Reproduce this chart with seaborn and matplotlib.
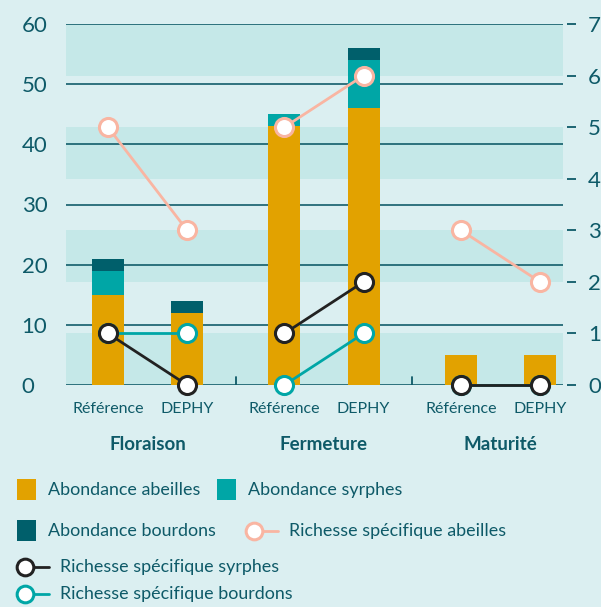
import numpy as np
import pandas as pd
import matplotlib
matplotlib.use("Agg")
import matplotlib.pyplot as plt
import seaborn as sns
from matplotlib.patches import Rectangle
from matplotlib.lines import Line2D
import matplotlib.transforms as mtransforms

# ---- data ----
groups = ["Floraison", "Fermeture", "Maturité"]
conditions = ["Référence", "DEPHY"]
abond_abeilles = [15, 12, 43, 46, 5, 5]
abond_syrphes = [4, 0, 2, 8, 0, 0]
abond_bourdons = [2, 2, 0, 2, 0, 0]
rich_abeilles = [5, 3, 5, 6, 3, 2]
rich_syrphes = [1, 0, 1, 2, 0, 0]
rich_bourdons = [1, 1, 0, 1, 0, 0]
left_ticks = [0, 10, 20, 30, 40, 50, 60]
right_ticks = [0, 1, 2, 3, 4, 5, 6, 7]

# ---- style ----
BG = "#dbeff1"
BAND = "#c5e8e8"
TXT = "#0e5a68"
C_ABE = "#e2a200"
C_SYR = "#00a6a6"
C_BOU = "#005f6b"
C_RABE = "#f9b5a2"
C_RSYR = "#222222"
C_RBOU = "#00a6a6"

sns.set_theme(style="white")
plt.rcParams["font.family"] = ["Lato", "DejaVu Sans"]

W, H = 601, 607
fig = plt.figure(figsize=(W / 100, H / 100), dpi=100, facecolor=BG)
ax = fig.add_axes([66 / W, 1 - 385 / H, (563 - 66) / W, (385 - 24) / H])
ax.set_facecolor(BG)

GAP = 2.23
xpos = [g * GAP + i for g in range(len(groups)) for i in range(len(conditions))]
xlabels = [c for g in groups for c in conditions]

df = pd.DataFrame({
    "x": xpos,
    "abe": abond_abeilles,
    "syr": abond_syrphes,
    "bou": abond_bourdons,
})
df["t_syr"] = df["abe"] + df["syr"]
df["t_bou"] = df["t_syr"] + df["bou"]

YMAX_L = left_ticks[-1]
YMAX_R = right_ticks[-1]
scale = YMAX_L / YMAX_R

# bands (alternate units of the right axis)
for k in range(0, YMAX_R, 2):
    ax.axhspan(k * scale, (k + 1) * scale, color=BAND, lw=0, zorder=0.2)
# gridlines
for t in left_ticks:
    ax.axhline(t, color=TXT, lw=1.3, zorder=0.5, alpha=0.9)

# stacked bars via seaborn (layered totals)
for col, c in [("t_bou", C_BOU), ("t_syr", C_SYR), ("abe", C_ABE)]:
    sns.barplot(data=df, x="x", y=col, native_scale=True, color=c,
                width=0.405, saturation=1, ax=ax, zorder=2, linewidth=0)

# small separators between groups
for g in range(len(groups) - 1):
    sx = g * GAP + 1 + (GAP - 1) / 2
    ax.plot([sx, sx], [0, 1.3], color=TXT, lw=1.3, zorder=2.5)

ax.set_xlim(-0.53, 5.75)
ax.set_ylim(0, YMAX_L)
ax.set_xlabel("")
ax.set_ylabel("")
for s in ax.spines.values():
    s.set_visible(False)
ax.set_yticks(left_ticks)
ax.set_yticklabels([str(t) for t in left_ticks])
ax.tick_params(axis="y", length=0, pad=32, labelsize=16, labelcolor=TXT)
for lab in ax.get_yticklabels():
    lab.set_horizontalalignment("left")
ax.set_xticks(xpos)
ax.set_xticklabels(xlabels)
ax.tick_params(axis="x", length=0, pad=12, labelsize=11.5, labelcolor=TXT)

trans = mtransforms.blended_transform_factory(ax.transData, ax.transAxes)
for g, name in enumerate(groups):
    ax.text(g * GAP + 0.5, -0.164, name, transform=trans, ha="center",
            va="center", fontsize=13.5, fontweight="bold", color=TXT)

# right axis with richness lines
ax2 = ax.twinx()
ax2.set_ylim(0, YMAX_R)
ax2.set_xlim(ax.get_xlim())
for s in ax2.spines.values():
    s.set_visible(False)
ax2.spines["right"].set_position(("outward", 3))
ax2.set_yticks(right_ticks)
ax2.tick_params(axis="y", right=True, length=6.5, width=1.3, color=TXT,
                pad=8.5, labelsize=16, labelcolor=TXT, direction="out")
ax2.grid(False)

for vals, c in [(rich_bourdons, C_RBOU), (rich_abeilles, C_RABE), (rich_syrphes, C_RSYR)]:
    for g in range(len(groups)):
        xs = xpos[g * 2:g * 2 + 2]
        ys = vals[g * 2:g * 2 + 2]
        ax2.plot(xs, ys, color=c, lw=2, marker="o", ms=13,
                 mfc="white", mec=c, mew=2.2, clip_on=False, zorder=3)

# ---- legend (manual, figure pixel coordinates) ----
LEG_FS = 12.9

def fx(px):
    return px / W

def fy(py):
    return 1 - py / H

def square(x0, y0, color, label, tx):
    fig.add_artist(Rectangle((fx(x0), fy(y0 + 21)), 19 / W, 21 / H,
                             transform=fig.transFigure, color=color, lw=0))
    fig.text(fx(tx), fy(y0 + 11), label, ha="left", va="center",
             fontsize=LEG_FS, color=TXT)

def linemark(xm, x1, yc, color, label, tx):
    fig.add_artist(Line2D([fx(xm), fx(x1)], [fy(yc), fy(yc)],
                          transform=fig.transFigure, color=color, lw=2))
    fig.add_artist(Line2D([fx(xm)], [fy(yc)], transform=fig.transFigure,
                          marker="o", ms=12, mfc="white", mec=color, mew=2.2,
                          lw=0))
    fig.text(fx(tx), fy(yc), label, ha="left", va="center",
             fontsize=LEG_FS, color=TXT)

square(17, 479, C_ABE, "Abondance abeilles", 48)
square(217, 479, C_SYR, "Abondance syrphes", 248)
square(17, 520, C_BOU, "Abondance bourdons", 48)
linemark(254, 278, 531, C_RABE, "Richesse spécifique abeilles", 289)
linemark(25, 49, 567, C_RSYR, "Richesse spécifique syrphes", 60)
linemark(25, 49, 594, C_RBOU, "Richesse spécifique bourdons", 60)

fig.savefig("out.png", dpi=100, facecolor=BG)
